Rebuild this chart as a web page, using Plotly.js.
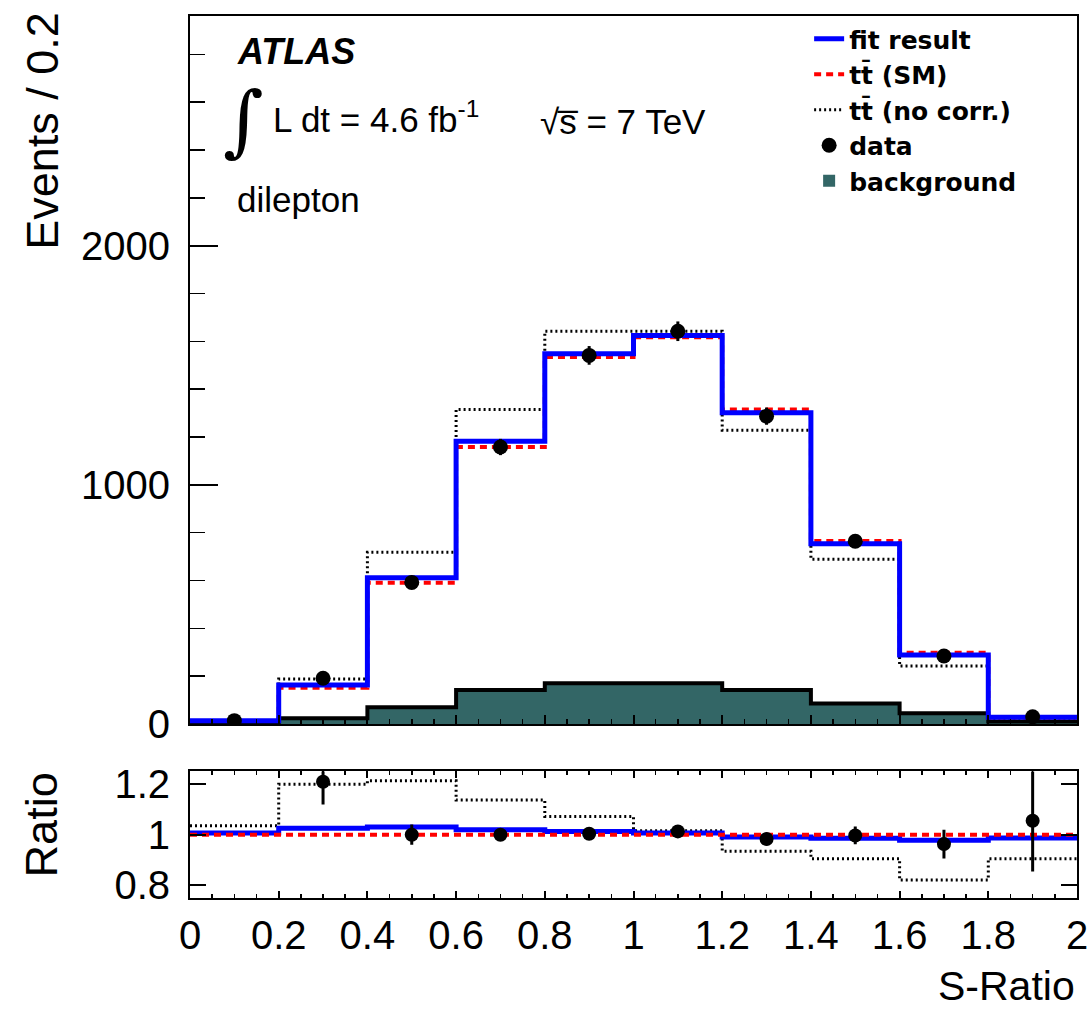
<!DOCTYPE html>
<html>
<head>
<meta charset="utf-8">
<script src="https://cdn.plot.ly/plotly-3.0.1.min.js"></script>
<style>html,body{margin:0;padding:0;background:#fff;}#chart{width:1091px;height:1010px;}</style>
</head>
<body>
<div id="chart"></div>
<script>
// ---- data ----
var binEdges = [0, 0.2, 0.4, 0.6, 0.8, 1.0, 1.2, 1.4, 1.6, 1.8, 2.0];
var binCenters = [0.1, 0.3, 0.5, 0.7, 0.9, 1.1, 1.3, 1.5, 1.7, 1.9];

var fitResult = [14, 163, 611, 1182, 1548, 1624, 1301, 754, 288, 28];
var ttSM      = [12, 152, 590, 1158, 1534, 1617, 1315, 765, 298, 27];
var ttNoCorr  = [13, 188, 718, 1315, 1642, 1642, 1228, 689, 242, 24];
var dataVals  = [14, 191, 592, 1158, 1541, 1642, 1287, 764, 284, 30];
var dataErr   = [4, 14, 24, 34, 39, 41, 36, 28, 17, 5];
var background = [3, 24, 70, 142, 170, 170, 142, 86, 45, 10];

var ratioFit     = [1.007, 1.026, 1.030, 1.020, 1.013, 1.007, 0.991, 0.986, 0.978, 0.987];
var ratioSM      = [1, 1, 1, 1, 1, 1, 1, 1, 1, 1];
var ratioNoCorr  = [1.035, 1.199, 1.213, 1.137, 1.072, 1.016, 0.935, 0.905, 0.821, 0.905];
var ratioData    = [null, 1.209, 1.000, 1.000, 1.004, 1.013, 0.983, 0.997, 0.963, 1.055];
var ratioDataErr = [null, 0.09, 0.04, 0.025, 0.02, 0.02, 0.025, 0.035, 0.057, 0.2];

var mainYTicks = [0, 1000, 2000];
var ratioYTicks = [0.8, 1, 1.2];
var ratioYTickText = ["0.8", "1", "1.2"];

// step helper: histogram contents -> hv step over bin edges
function step(vals) { return vals.concat([vals[vals.length - 1]]); }

var FONT = "Liberation Sans, Arial, Helvetica, sans-serif";
var LEGFONT = "DejaVu Sans, Liberation Sans, sans-serif";
var BLUE = "#0000ff", RED = "#ff0000", TEAL = "#336666";

var traces = [
  // ---- main panel ----
  {type: "bar", x: binCenters, y: background, width: 0.2, xaxis: "x2", yaxis: "y2",
   marker: {color: TEAL, line: {width: 0}}, name: "<b>background</b>", legendrank: 5, hoverinfo: "skip"},
  {type: "scatter", mode: "lines", x: binEdges, y: step(background), xaxis: "x2", yaxis: "y2",
   line: {shape: "hv", color: "#000", width: 4}, showlegend: false, hoverinfo: "skip"},
  {type: "scatter", mode: "lines", x: binEdges, y: step(ttNoCorr), xaxis: "x2", yaxis: "y2",
   line: {shape: "hv", color: "#000", width: 3, dash: "2px,3px"}, name: "<b>tt\u0304 (no corr.)</b>", legendrank: 3},
  {type: "scatter", mode: "lines", x: binEdges, y: step(ttSM), xaxis: "x2", yaxis: "y2",
   line: {shape: "hv", color: RED, width: 4, dash: "7px,5px"}, name: "<b>tt\u0304 (SM)</b>", legendrank: 2},
  {type: "scatter", mode: "lines", x: binEdges, y: step(fitResult), xaxis: "x2", yaxis: "y2",
   line: {shape: "hv", color: BLUE, width: 5}, name: "<b>fit result</b>", legendrank: 1},
  {type: "scatter", mode: "markers", x: binCenters, y: dataVals, xaxis: "x2", yaxis: "y2",
   marker: {color: "#000", size: 15},
   error_y: {type: "data", array: dataErr, visible: true, color: "#000", thickness: 3, width: 0},
   name: "<b>data</b>", legendrank: 4},
  // ---- ratio panel ----
  {type: "scatter", mode: "lines", x: binEdges, y: step(ratioNoCorr), xaxis: "x", yaxis: "y",
   line: {shape: "hv", color: "#000", width: 3, dash: "2px,3px"}, showlegend: false},
  {type: "scatter", mode: "lines", x: binEdges, y: step(ratioFit), xaxis: "x", yaxis: "y",
   line: {shape: "hv", color: BLUE, width: 5}, showlegend: false},
  {type: "scatter", mode: "lines", x: binEdges, y: step(ratioSM), xaxis: "x", yaxis: "y",
   line: {shape: "hv", color: RED, width: 4, dash: "7px,5px"}, showlegend: false},
  {type: "scatter", mode: "markers", x: binCenters, y: ratioData, xaxis: "x", yaxis: "y",
   marker: {color: "#000", size: 14},
   error_y: {type: "data", array: ratioDataErr, visible: true, color: "#000", thickness: 3, width: 0},
   showlegend: false}
];

var axisCommon = {
  showline: true, linecolor: "#000", linewidth: 2, showgrid: false, zeroline: false,
  ticks: "inside", tickcolor: "#000", tickwidth: 2,
  tickfont: {family: FONT, size: 40, color: "#000"}
};

var layout = {
  width: 1091, height: 1010,
  margin: {l: 190, r: 14, t: 16, b: 112, pad: 0},
  paper_bgcolor: "#fff", plot_bgcolor: "#fff",
  font: {family: FONT, color: "#000"},
  bargap: 0,
  showlegend: true,
  legend: {x: 0.698, xanchor: "left", y: 1.0, yanchor: "top", bgcolor: "rgba(0,0,0,0)",
           font: {family: LEGFONT, size: 25, color: "#000"}, tracegroupgap: 0, itemwidth: 30},
  xaxis: Object.assign({}, axisCommon, {
    domain: [0, 1], anchor: "y", range: [0, 2], tick0: 0, dtick: 0.2, ticklen: 7,
    minor: {dtick: 0.05, ticklen: 4, tickwidth: 1.5, tickcolor: "#000", ticks: "inside"},
    mirror: "ticks", ticklabelstandoff: 1
  }),
  yaxis: Object.assign({}, axisCommon, {
    domain: [0, 0.1435], anchor: "x", range: [0.75, 1.25],
    tickvals: ratioYTicks, ticktext: ratioYTickText, ticklen: 16, mirror: "ticks",
    ticklabelstandoff: 10
  }),
  xaxis2: Object.assign({}, axisCommon, {
    domain: [0, 1], anchor: "y2", range: [0, 2], tick0: 0, dtick: 0.2, ticklen: 9,
    minor: {dtick: 0.05, ticklen: 5, tickwidth: 1.5, tickcolor: "#000", ticks: "inside"},
    showticklabels: false, mirror: true
  }),
  yaxis2: Object.assign({}, axisCommon, {
    domain: [0.1973, 1], anchor: "x2", range: [0, 2960],
    tickvals: mainYTicks, ticklen: 28,
    minor: {dtick: 200, ticklen: 15, tickwidth: 1.5, tickcolor: "#000", ticks: "inside"},
    mirror: true, ticklabelstandoff: 10
  }),
  annotations: [
    {text: "Events / 0.2", xref: "paper", yref: "paper", x: -0.167, y: 1.0068,
     xanchor: "center", yanchor: "top", textangle: -90, showarrow: false,
     font: {family: FONT, size: 45, color: "#000"}},
    {text: "Ratio", xref: "paper", yref: "paper", x: -0.167, y: 0.1451,
     xanchor: "center", yanchor: "top", textangle: -90, showarrow: false,
     font: {family: FONT, size: 45, color: "#000"}},
    {text: "S-Ratio", xref: "paper", yref: "paper", x: 1.0, y: -0.1000,
     xanchor: "right", yanchor: "middle", showarrow: false,
     font: {family: FONT, size: 41, color: "#000"}},
    {text: "<b><i>ATLAS</i></b>", xref: "paper", yref: "paper", x: 0.0505, y: 0.9603,
     xanchor: "left", yanchor: "middle", showarrow: false,
     font: {family: FONT, size: 36, color: "#000"}},
    {text: "\u222B", xref: "paper", yref: "paper", x: 0.035, y: 0.882,
     xanchor: "left", yanchor: "middle", showarrow: false,
     font: {family: "DejaVu Serif, serif", size: 78, color: "#000"}},
    {text: "L dt = 4.6 fb<sup>-1</sup>", xref: "paper", yref: "paper", x: 0.091, y: 0.886,
     xanchor: "left", yanchor: "middle", showarrow: false,
     font: {family: FONT, size: 35, color: "#000"}},
    {text: "\u221As\u0305 = 7 TeV", xref: "paper", yref: "paper", x: 0.3925, y: 0.8805,
     xanchor: "left", yanchor: "middle", showarrow: false,
     font: {family: FONT, size: 35, color: "#000"}},
    {text: "dilepton", xref: "paper", yref: "paper", x: 0.0505, y: 0.7914,
     xanchor: "left", yanchor: "middle", showarrow: false,
     font: {family: FONT, size: 35, color: "#000"}}
  ]
};

Plotly.newPlot("chart", traces, layout, {displayModeBar: false, staticPlot: true});
</script>
</body>
</html>
